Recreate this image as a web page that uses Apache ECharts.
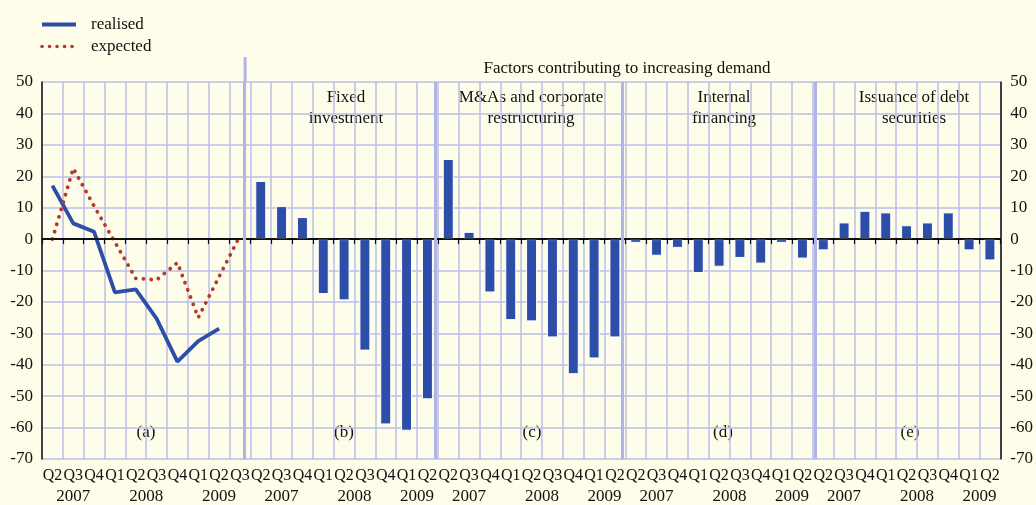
<!DOCTYPE html>
<html>
<head>
<meta charset="utf-8">
<script src="https://cdn.jsdelivr.net/npm/echarts@6/dist/echarts.min.js"></script>
<style>
  html, body { margin: 0; padding: 0; background: #fefde9; }
  #chart { width: 1036px; height: 505px; }
</style>
</head>
<body>
<div id="chart"></div>
<script>
// quarters: panel (a) runs Q2 2007 - Q3 2009, panels (b)-(e) Q2 2007 - Q2 2009
const quartersA = ['Q2', 'Q3', 'Q4', 'Q1', 'Q2', 'Q3', 'Q4', 'Q1', 'Q2', 'Q3']
const quartersB = ['Q2', 'Q3', 'Q4', 'Q1', 'Q2', 'Q3', 'Q4', 'Q1', 'Q2']

// (a) net demand, realised and expected
const realised = [17, 5, 2.3, -17, -16, -25.3, -39, -32.5, -28.5]
const expected = [0, 22.5, 10.5, -1, -12.5, -13, -7.5, -25, -12, 1]

// (b)-(e) factors contributing to increasing demand
const fixedInvestment = [18.5, 10.5, 7, -17.5, -19.5, -35.5, -59, -61, -51]
const mergersRestructuring = [25.5, 2.3, -17, -25.8, -26.2, -31.3, -43, -38, -31.3]
const internalFinancing = [-1.2, -5.3, -2.8, -10.8, -8.8, -6, -7.8, -1.2, -6.2]
const debtIssuance = [-3.6, 5.3, 9, 8.5, 4.4, 5.3, 8.5, -3.6, -6.8]

// year labels, placed in quarter units from the left edge
const yearLabels = [
  [1.5, '2007'], [5, '2008'], [8.5, '2009'],
  [11.5, '2007'], [15, '2008'], [18, '2009'],
  [20.5, '2007'], [24, '2008'], [27, '2009'],
  [29.5, '2007'], [33, '2008'], [36, '2009'],
  [38.5, '2007'], [42, '2008'], [45, '2009']
]
// panel separators, in quarter units
const separators = [9.69, 18.86, 27.86, 37.12]

const FONT = '"Liberation Serif", "Times New Roman", serif'
const GRID_COLOR = '#babee8'
const SEP_COLOR = '#b0b5e6'
const BLUE = '#2c4ea8'
const RED = '#b8392c'

const categories = quartersA.concat(quartersB, quartersB, quartersB, quartersB)
const barData = new Array(quartersA.length).fill(null)
  .concat(fixedInvestment, mergersRestructuring, internalFinancing, debtIssuance)
const yearMap = {}
yearLabels.forEach(([pos, label]) => { yearMap[pos] = label })

const chart = echarts.init(document.getElementById('chart'))

function panelText(x, text) {
  return {
    type: 'text', x: x, y: 108,
    style: {
      text: text, font: '17px ' + FONT, fill: '#111',
      textAlign: 'center', textVerticalAlign: 'middle',
      align: 'center', verticalAlign: 'middle', lineHeight: 21
    }
  }
}
function letterText(x, text) {
  return {
    type: 'text', x: x, y: 433,
    style: {
      text: text, font: '17px ' + FONT, fill: '#111',
      textAlign: 'center', textVerticalAlign: 'middle',
      align: 'center', verticalAlign: 'middle'
    }
  }
}

chart.setOption({
  backgroundColor: '#fefde9',
  animation: false,
  legend: {
    orient: 'vertical',
    left: 35,
    top: 11,
    itemWidth: 34,
    itemHeight: 14,
    itemGap: 5,
    data: [
      { name: 'realised', lineStyle: { color: BLUE, width: 4, type: 'solid' } },
      { name: 'expected', lineStyle: { color: RED, width: 3.6, type: [0.1, 7.4], cap: 'round' } }
    ],
    itemStyle: { opacity: 0 },
    textStyle: { fontFamily: FONT, fontSize: 17, color: '#111', padding: [0, 0, 0, 10] }
  },
  grid: { left: 42, right: 30, top: 82, bottom: 44 },
  xAxis: [{
    type: 'category',
    data: categories,
    boundaryGap: true,
    axisLine: { lineStyle: { color: '#111', width: 1.5 } },
    axisTick: { show: true, length: 5, interval: 0, lineStyle: { color: '#111', width: 1.2 } },
    axisLabel: { interval: 0, margin: 9, fontFamily: FONT, fontSize: 16, color: '#111' },
    splitLine: { show: true, interval: 0, lineStyle: { color: GRID_COLOR, width: 1.5 } }
  }, {
    type: 'value',
    min: 0,
    max: 46,
    interval: 0.5,
    position: 'bottom',
    axisLine: { show: false },
    axisTick: { show: false },
    splitLine: { show: false },
    axisLabel: {
      margin: 29, fontFamily: FONT, fontSize: 17, color: '#111',
      showMinLabel: true, showMaxLabel: true,
      formatter: v => yearMap[v] || ''
    }
  }],
  yAxis: [{
    type: 'value',
    min: -70,
    max: 50,
    interval: 10,
    position: 'left',
    axisLine: { show: true, lineStyle: { color: '#111', width: 1.5 } },
    axisTick: { show: false },
    axisLabel: { margin: 9, fontFamily: FONT, fontSize: 17, color: '#111' },
    splitLine: { show: true, lineStyle: { color: GRID_COLOR, width: 1.5 } }
  }, {
    type: 'value',
    min: -70,
    max: 50,
    interval: 10,
    position: 'right',
    axisLine: { show: true, lineStyle: { color: '#111', width: 1.5 } },
    axisTick: { show: false },
    axisLabel: { margin: 10, fontFamily: FONT, fontSize: 17, color: '#111' },
    splitLine: { show: false }
  }],
  series: [{
    name: 'guides',
    type: 'line',
    xAxisIndex: 1,
    data: [],
    silent: true,
    z: 1,
    markLine: {
      silent: true,
      symbol: 'none',
      label: { show: false },
      animation: false,
      data: [{ yAxis: 0, lineStyle: { color: '#000', width: 1.6, type: 'solid' } }]
        .concat(separators.map(s => ({ xAxis: s, lineStyle: { color: SEP_COLOR, width: 3, type: 'solid' } })))
    }
  }, {
    name: 'factors',
    type: 'bar',
    data: barData,
    barWidth: 11,
    z: 2,
    itemStyle: { color: BLUE, borderColor: '#ffffff', borderWidth: 1 }
  }, {
    name: 'realised',
    type: 'line',
    data: realised,
    symbol: 'none',
    showSymbol: false,
    z: 3,
    lineStyle: { color: BLUE, width: 3.8 },
    itemStyle: { color: BLUE }
  }, {
    name: 'expected',
    type: 'line',
    data: expected,
    symbol: 'none',
    showSymbol: false,
    z: 4,
    lineStyle: { color: RED, width: 3.8, type: [0.1, 7.6], cap: 'round' },
    itemStyle: { color: RED }
  }],
  graphic: [
    { type: 'rect', shape: { x: 243.6, y: 57, width: 3, height: 26 }, style: { fill: SEP_COLOR } },
    {
      type: 'text', x: 627, y: 69,
      style: {
        text: 'Factors contributing to increasing demand', font: '17px ' + FONT, fill: '#111',
        textAlign: 'center', textVerticalAlign: 'middle', align: 'center', verticalAlign: 'middle'
      }
    },
    panelText(346, 'Fixed\ninvestment'),
    panelText(531, 'M&As and corporate\nrestructuring'),
    panelText(724, 'Internal\nfinancing'),
    panelText(914, 'Issuance of debt\nsecurities'),
    letterText(146, '(a)'),
    letterText(344, '(b)'),
    letterText(532, '(c)'),
    letterText(723, '(d)'),
    letterText(910, '(e)')
  ]
})
</script>
</body>
</html>
